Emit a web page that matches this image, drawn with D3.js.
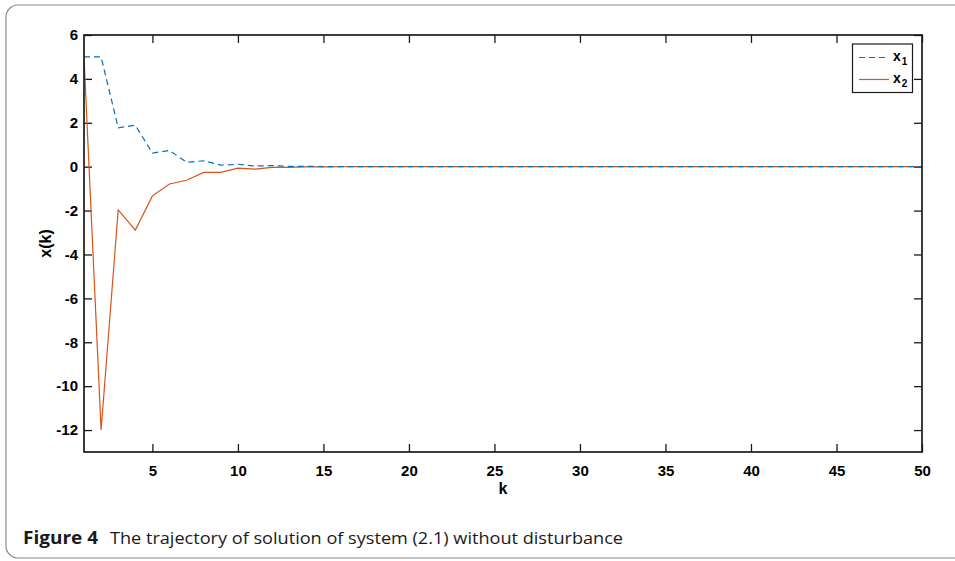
<!DOCTYPE html>
<html>
<head>
<meta charset="utf-8">
<script src="https://cdn.jsdelivr.net/npm/d3@7"></script>
<style>
  html, body { margin: 0; padding: 0; background: #fff; }
  svg { display: block; }
</style>
</head>
<body>
<svg id="chart" width="955" height="561"></svg>
<script>
// ---- data ----
const k = d3.range(1, 51);
const x1 = [5, 5, 1.77, 1.89, 0.62, 0.74, 0.2, 0.27, 0.07, 0.11, 0.03, 0.05, 0.01, 0.015, 0.004,
  0.004, 0.001, 0.001, 0, 0, 0, 0, 0, 0, 0, 0, 0, 0, 0, 0, 0, 0, 0, 0, 0, 0, 0, 0, 0, 0,
  0, 0, 0, 0, 0, 0, 0, 0, 0, 0];
const x2 = [5, -12, -1.97, -2.89, -1.33, -0.79, -0.62, -0.26, -0.26, -0.07, -0.11, -0.03, -0.03, -0.01, -0.005,
  -0.003, -0.001, 0, 0, 0, 0, 0, 0, 0, 0, 0, 0, 0, 0, 0, 0, 0, 0, 0, 0, 0, 0, 0, 0, 0,
  0, 0, 0, 0, 0, 0, 0, 0, 0, 0];
const xTicks = [5, 10, 15, 20, 25, 30, 35, 40, 45, 50];
const yTicks = [-12, -10, -8, -6, -4, -2, 0, 2, 4, 6];
const seriesNames = ["x", "x"];
const seriesSubs = ["1", "2"];
const xLabel = "k";
const yLabel = "x(k)";
const captionBold = "Figure 4";
const captionText = "The trajectory of solution of system (2.1) without disturbance";

// ---- layout ----
const svg = d3.select("#chart");
const L = 84, R = 922, T = 35, B = 452;
const colors = ["#0072BD", "#D95319"];
const FONT = "'Liberation Sans', Arial, Helvetica, sans-serif";

// outer frame
svg.append("rect").attr("x", 6).attr("y", 5).attr("width", 980).attr("height", 553)
  .attr("rx", 12).attr("ry", 12).attr("fill", "none").attr("stroke", "#8a8a8a").attr("stroke-width", 1.2);

const xs = d3.scaleLinear().domain([1, 50]).range([L, R]);
const ys = d3.scaleLinear().domain([-13, 6]).range([B, T]);

const axisColor = "#1a1a1a";
function styleAxis(g) {
  g.attr("font-family", FONT).attr("font-size", 15).attr("font-weight", "bold");
  g.select(".domain").remove();
  g.selectAll(".tick line").attr("stroke", axisColor).attr("stroke-width", 1.3);
  g.selectAll(".tick text").attr("fill", "#000")
    .style("font-family", FONT).style("font-size", "15px").style("font-weight", "bold");
}

svg.append("g").attr("transform", `translate(0,${B})`)
  .call(d3.axisBottom(xs).tickValues(xTicks).tickSizeInner(-8).tickSizeOuter(0).tickPadding(13).tickFormat(d3.format("d")))
  .call(styleAxis);
svg.append("g").attr("transform", `translate(0,${T})`)
  .call(d3.axisTop(xs).tickValues(xTicks).tickSizeInner(-8).tickSizeOuter(0).tickFormat(""))
  .call(styleAxis);
svg.append("g").attr("transform", `translate(${L},0)`)
  .call(d3.axisLeft(ys).tickValues(yTicks).tickSizeInner(-8).tickSizeOuter(0).tickPadding(6).tickFormat(d3.format("d")))
  .call(styleAxis);
svg.append("g").attr("transform", `translate(${R},0)`)
  .call(d3.axisRight(ys).tickValues(yTicks).tickSizeInner(-8).tickSizeOuter(0).tickFormat(""))
  .call(styleAxis);

// hyphen-minus like reference
svg.selectAll(".tick text").text(function() { return d3.select(this).text().replace("\u2212", "-"); });

// clip
svg.append("clipPath").attr("id", "clip").append("rect")
  .attr("x", L).attr("y", T).attr("width", R - L).attr("height", B - T);

const line = d3.line().x((d, i) => xs(k[i])).y(d => ys(d));
const plot = svg.append("g").attr("clip-path", "url(#clip)");
plot.append("path").datum(x2).attr("d", line).attr("fill", "none")
  .attr("stroke", colors[1]).attr("stroke-width", 1.2);
plot.append("path").datum(x1).attr("d", line).attr("fill", "none")
  .attr("stroke", colors[0]).attr("stroke-width", 1.2).attr("stroke-dasharray", "6,4");

// frame
svg.append("rect").attr("x", L).attr("y", T).attr("width", R - L).attr("height", B - T)
  .attr("fill", "none").attr("stroke", axisColor).attr("stroke-width", 1.7);

// axis labels
svg.append("text").attr("x", (L + R) / 2).attr("y", 494).attr("text-anchor", "middle")
  .style("font-family", FONT).style("font-weight", "bold").style("font-size", "16px")
  .attr("fill", "#000").text(xLabel);
svg.append("text").attr("transform", `translate(51,${(T + B) / 2}) rotate(-90)`).attr("text-anchor", "middle")
  .style("font-family", FONT).style("font-weight", "bold").style("font-size", "16px")
  .attr("fill", "#000").text(yLabel);

// legend
const lg = svg.append("g");
lg.append("rect").attr("x", 852.5).attr("y", 44).attr("width", 60).attr("height", 48.5)
  .attr("fill", "#fff").attr("stroke", axisColor).attr("stroke-width", 1.2);
const rowsY = [57.5, 79.5];
[0, 1].forEach(i => {
  lg.append("line").attr("x1", 859).attr("x2", 889).attr("y1", rowsY[i]).attr("y2", rowsY[i])
    .attr("stroke", colors[i]).attr("stroke-width", 1.2)
    .attr("stroke-dasharray", i === 0 ? "6,4" : null);
  const t = lg.append("text").attr("x", 893).attr("y", rowsY[i] + 3)
    .attr("font-family", FONT).attr("font-weight", "bold").attr("font-size", 14)
    .attr("fill", "#000");
  t.append("tspan").attr("font-weight", "bold").text(seriesNames[i]);
  t.append("tspan").attr("font-weight", "bold").attr("font-size", 10).attr("dy", 4).attr("dx", 1).text(seriesSubs[i]);
});

// caption
svg.append("text").attr("x", 23).attr("y", 544)
  .style("font-family", "'Open Sans', 'Noto Sans', sans-serif").style("font-weight", "bold").style("font-size", "17px")
  .attr("textLength", 75).attr("lengthAdjust", "spacingAndGlyphs")
  .attr("fill", "#1a1a1a").text(captionBold);
svg.append("text").attr("x", 110).attr("y", 544)
  .style("font-family", "'Open Sans', 'Noto Sans', sans-serif").style("font-weight", "normal").style("font-size", "17px")
  .attr("textLength", 513).attr("lengthAdjust", "spacingAndGlyphs")
  .attr("fill", "#1a1a1a").text(captionText);
</script>
</body>
</html>
